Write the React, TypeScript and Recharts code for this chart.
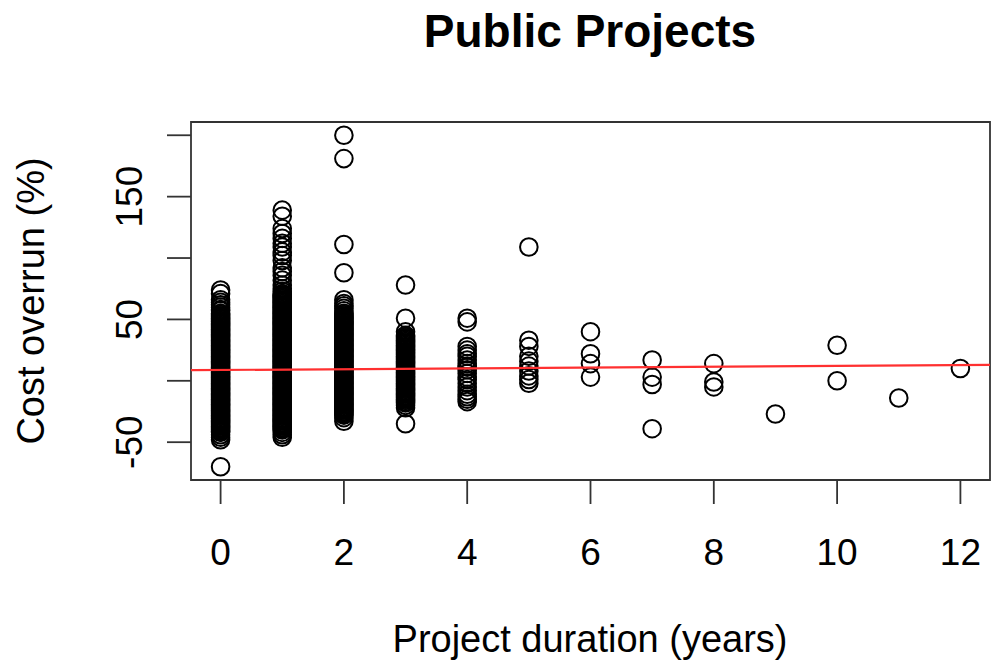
import { ScatterChart, Scatter, XAxis, YAxis, ReferenceArea } from "recharts";

// cost overrun (%) by project duration (years)
const durations = [0, 1, 2, 3, 4, 5, 6, 7, 8, 9, 10, 11, 12];

const overrun0 = [
  74, 71, 66, 64, 62, 60, 58, 57, 55, 54, 53, 52, 51, 50, 49, 48, 47, 46, 45,
  44, 43, 42, 41, 40, 39, 38, 37, 36, 35, 34, 33, 32, 31, 30, 29, 28, 27, 26,
  25, 24, 23, 22, 21, 20, 19, 18, 17, 16, 15, 14, 13, 12, 11, 10, 9, 8, 7, 6,
  5, 4, 3, 2, 1, 0, -1, -2, -3, -4, -5, -6, -7, -8, -9, -10, -11, -12, -13,
  -14, -15, -16, -17, -18, -19, -20, -21, -22, -23, -24, -25, -26, -27, -28,
  -29, -30, -31, -32, -33, -34, -35, -36, -37, -38, -39, -40, -41, -42, -44,
  -46, -48, -70,
];
const overrun1 = [
  139, 134, 124, 120, 116, 112, 109, 105, 102, 98, 92, 89, 86, 82, 78, 75, 73,
  71, 70, 69, 68, 67, 66, 65, 64, 63, 62, 61, 60, 59, 58, 57, 56, 55, 54, 53,
  52, 51, 50, 49, 48, 47, 46, 45, 44, 43, 42, 41, 40, 39, 38, 37, 36, 35, 34,
  33, 32, 31, 30, 29, 28, 27, 26, 25, 24, 23, 22, 21, 20, 19, 18, 17, 16, 15,
  14, 13, 12, 11, 10, 9, 8, 7, 6, 5, 4, 3, 2, 1, 0, -1, -2, -3, -4, -5, -6, -7,
  -8, -9, -10, -11, -12, -13, -14, -15, -16, -17, -18, -19, -20, -21, -22, -23,
  -24, -25, -26, -27, -28, -29, -30, -31, -32, -33, -34, -35, -36, -37, -38,
  -39, -40, -42, -44, -46,
];
const overrun2 = [
  200, 181, 111, 88, 66, 63, 61, 59, 57, 55, 54, 53, 52, 51, 50, 49, 48, 47,
  46, 45, 44, 43, 42, 41, 40, 39, 38, 37, 36, 35, 34, 33, 32, 31, 30, 29, 28,
  27, 26, 25, 24, 23, 22, 21, 20, 19, 18, 17, 16, 15, 14, 13, 12, 11, 10, 9, 8,
  7, 6, 5, 4, 3, 2, 1, 0, -1, -2, -3, -4, -5, -6, -7, -8, -9, -10, -11, -12,
  -13, -14, -15, -16, -17, -18, -19, -20, -21, -22, -23, -24, -25, -26, -27,
  -28, -30, -33,
];
const overrun3 = [
  78, 51, 40, 37, 36, 35, 34, 33, 32, 31, 30, 29, 28, 27, 26, 25, 24, 23, 22,
  21, 20, 19, 18, 17, 16, 15, 14, 13, 12, 11, 10, 9, 8, 7, 6, 5, 4, 3, 2, 1, 0,
  -1, -2, -3, -4, -5, -6, -7, -8, -9, -10, -11, -12, -13, -14, -15, -16, -17,
  -18, -20, -22, -35,
];
const overrun4 = [51, 48, 28, 25, 22, 20, 17, 14, 12, 11, 9, 6, 3, 1, -2, -5, -8, -11, -13, -15, -17];
const overrun5 = [109, 33, 28, 20, 16, 12, 8, 4, 1, -2];
const overrun6 = [40, 22, 14, 3];
const overrun7 = [17, 3, -3, -39];
const overrun8 = [14, -1, -5];
const overrun9 = [-27];
const overrun10 = [29, 0];
const overrun11 = [-14];
const overrun12 = [10];

const overrunByDuration = [
  overrun0, overrun1, overrun2, overrun3, overrun4, overrun5, overrun6,
  overrun7, overrun8, overrun9, overrun10, overrun11, overrun12,
];

// linear fit drawn across the plot
const fitIntercept = 8.8;
const fitSlope = 0.33;

const xTicks = [0, 2, 4, 6, 8, 10, 12];
const yTicks = [-50, 0, 50, 100, 150, 200];
const yTickLabels = [-50, 50, 150];
const xDomain = [-0.48, 12.48];
const yDomain = [-80.8, 210.8];

const points = durations.flatMap((d, i) =>
  overrunByDuration[i].map((v) => ({ duration: d, overrun: v }))
);
const fitLine = xDomain.map((x) => ({
  duration: x,
  overrun: fitIntercept + fitSlope * x,
}));

const font = "'Liberation Sans', Arial, Helvetica, sans-serif";

function XTick(props: any) {
  const { x, y, payload } = props;
  return (
    <text x={x} y={y + 61} textAnchor="middle" fontSize={37} fontFamily={font} fill="#000">
      {payload.value}
    </text>
  );
}

function YTick(props: any) {
  const { x, y, payload } = props;
  if (!yTickLabels.includes(payload.value)) return <g />;
  const bx = x - 25;
  return (
    <text
      x={bx}
      y={y}
      transform={`rotate(-90 ${bx} ${y})`}
      textAnchor="middle"
      fontSize={37}
      fontFamily={font}
      fill="#000"
    >
      {payload.value}
    </text>
  );
}

export default function App() {
  return (
    <div style={{ position: "absolute", left: 0, top: 0, width: 995, height: 672, background: "#fff" }}>
      <ScatterChart width={995} height={672} margin={{ top: 122, right: 5, bottom: 132, left: 0 }}>
        <XAxis
          type="number"
          dataKey="duration"
          domain={xDomain}
          ticks={xTicks}
          height={60}
          axisLine={false}
          tickSize={24}
          tickMargin={0}
          tickLine={{ stroke: "#333", strokeWidth: 1.8 }}
          tick={XTick}
          interval={0}
        />
        <YAxis
          type="number"
          dataKey="overrun"
          domain={yDomain}
          ticks={yTicks}
          width={191}
          axisLine={false}
          tickSize={24}
          tickMargin={0}
          tickLine={{ stroke: "#333", strokeWidth: 1.8 }}
          tick={YTick}
          interval={0}
        />
        <ReferenceArea
          x1={xDomain[0]}
          x2={xDomain[1]}
          y1={yDomain[0]}
          y2={yDomain[1]}
          fill="none"
          stroke="#333"
          strokeWidth={1.8}
          ifOverflow="visible"
        />
        <Scatter
          data={points}
          isAnimationActive={false}
          shape={(p: any) => (
            <circle cx={p.cx} cy={p.cy} r={8.8} fill="none" stroke="#000" strokeWidth={2} />
          )}
        />
        <Scatter
          data={fitLine}
          isAnimationActive={false}
          line={{ stroke: "#ff3030", strokeWidth: 2.2 }}
          shape={() => <g />}
        />
      </ScatterChart>
      <svg
        width={995}
        height={672}
        style={{ position: "absolute", left: 0, top: 0, pointerEvents: "none" }}
      >
        <text x={590} y={47} textAnchor="middle" fontSize={46} fontWeight="bold" fontFamily={font} fill="#000">
          Public Projects
        </text>
        <text x={590} y={652} textAnchor="middle" fontSize={38} fontFamily={font} fill="#000">
          Project duration (years)
        </text>
        <text
          x={44}
          y={301}
          transform="rotate(-90 44 301)"
          textAnchor="middle"
          fontSize={38}
          fontFamily={font}
          fill="#000"
        >
          Cost overrun (%)
        </text>
      </svg>
    </div>
  );
}
